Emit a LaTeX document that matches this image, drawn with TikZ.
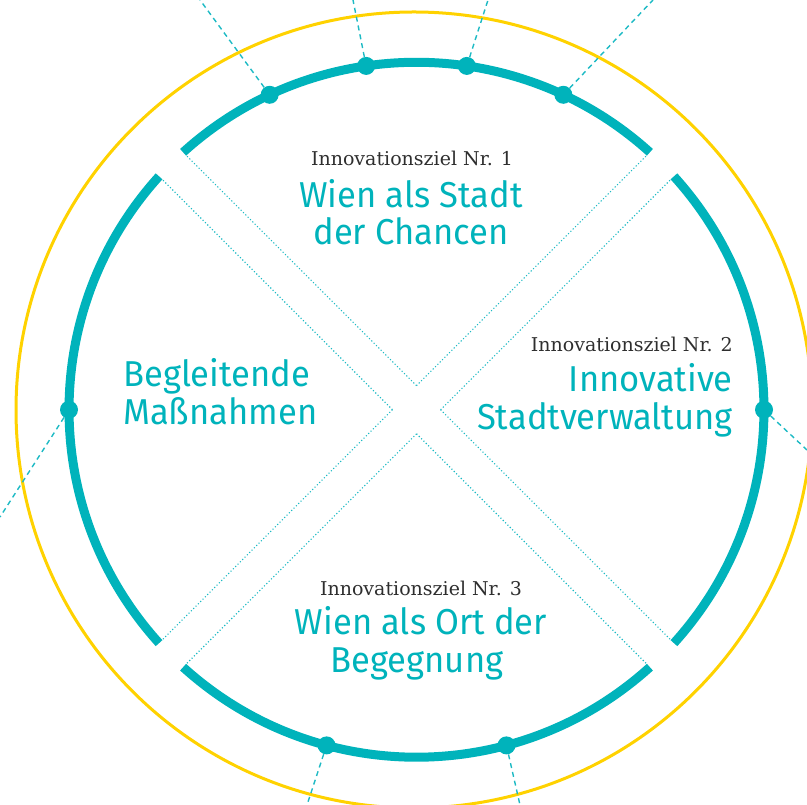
\documentclass[tikz,border=0pt]{standalone}
\usepackage{fontspec}
\newfontfamily\titlefont[FakeStretch=0.96]{Fira Sans}
\newfontfamily\kickerfont{DejaVu Serif}
\usetikzlibrary{calc}
\definecolor{teal1}{HTML}{00B3BB}
\definecolor{teal2}{HTML}{1DBAC4}
\definecolor{yell}{HTML}{FFD200}
\definecolor{graytxt}{HTML}{2E2E2E}
\begin{document}
\begin{tikzpicture}[x=1pt,y=1pt,
  ring/.style={line width=9pt, draw=teal1},
  band/.style={draw=teal2, line width=1.1pt, dash pattern=on 1.1pt off 2.2pt},
  ray/.style={draw=teal2, line width=1.4pt, dash pattern=on 5pt off 4pt},
  dotnode/.style={circle, fill=teal1, inner sep=0pt, minimum size=18pt},
  kicker/.style={font=\kickerfont\fontsize{19}{22}\selectfont, text=graytxt, inner sep=0pt},
  heading/.style={font=\titlefont\fontsize{36}{38}\selectfont, text=teal1, inner sep=0pt}]
\useasboundingbox (0,0) rectangle (807,805);
\coordinate (C) at (416.5,395.25);
\coordinate (Y) at (414,395);
% yellow outer circle
\draw[yell, line width=3pt] (Y) circle[radius=398];
% dotted bands
\pgfmathsetmacro{\dl}{asin(17/343)}
\pgfmathsetmacro{\da}{asin(17/347.5)}
\coordinate (T) at ($(C)+(90:24.04)$);
\coordinate (L) at ($(C)+(180:24.04)$);
\coordinate (B) at ($(C)+(270:24.04)$);
\coordinate (R) at ($(C)+(0:24.04)$);
\coordinate (nw1) at ($(C)+({135-\dl}:343)$);
\coordinate (nw2) at ($(C)+({135+\dl}:343)$);
\coordinate (sw1) at ($(C)+({225-\dl}:343)$);
\coordinate (sw2) at ($(C)+({225+\dl}:343)$);
\coordinate (se1) at ($(C)+({315-\dl}:343)$);
\coordinate (se2) at ($(C)+({315+\dl}:343)$);
\coordinate (ne1) at ($(C)+({45-\dl}:343)$);
\coordinate (ne2) at ($(C)+({45+\dl}:343)$);
\draw[band] (T) -- (nw1);
\draw[band] (L) -- (nw2);
\draw[band] (L) -- (sw1);
\draw[band] (B) -- (sw2);
\draw[band] (B) -- (se1);
\draw[band] (R) -- (se2);
\draw[band] (R) -- (ne1);
\draw[band] (T) -- (ne2);
% teal ring arcs
\foreach \s in {45,135,225,315}{
  \draw[ring] ($(C)+({\s+\da}:347.5)$) arc[start angle={\s+\da}, end angle={\s+90-\da}, radius=347.5];
}
% dots
\node[dotnode] (d1) at ($(C)+(115:347.5)$) {};
\node[dotnode] (d2) at ($(C)+(98.33:347.5)$) {};
\node[dotnode] (d3) at ($(C)+(81.67:347.5)$) {};
\node[dotnode] (d4) at ($(C)+(65:347.5)$) {};
\node[dotnode] (d5) at ($(C)+(0:347.5)$) {};
\node[dotnode] (d6) at ($(C)+(180:347.5)$) {};
\node[dotnode] (d7) at ($(C)+(255:347.5)$) {};
\node[dotnode] (d8) at ($(C)+(285:347.5)$) {};
% ray ends
\coordinate (e1) at (200,805);
\coordinate (e2) at (353,805);
\coordinate (e3) at (488,805);
\coordinate (e4) at (653,805);
\coordinate (e5) at (807,355);
\coordinate (e6) at (0,288);
\coordinate (e7) at (307,0);
\coordinate (e8) at (520,0);
\foreach \i in {1,...,8}{\draw[ray] (d\i) -- (e\i);}
% texts
\node[kicker, anchor=base] (k1) at (412,639) {Innovationsziel Nr. 1};
\node[heading, anchor=base] (h1a) at (411,597) {Wien als Stadt};
\node[heading, anchor=base] (h1b) at (411,560) {der Chancen};
\node[kicker, anchor=base east] (k2) at (733,453) {Innovationsziel Nr. 2};
\node[heading, anchor=base east] (h2a) at (733,413) {Innovative};
\node[heading, anchor=base east] (h2b) at (733,375) {Stadtverwaltung};
\node[heading, anchor=base west] (h4a) at (123,418) {Begleitende};
\node[heading, anchor=base west] (h4b) at (123,380) {Maßnahmen};
\node[kicker, anchor=base] (k3) at (421,209) {Innovationsziel Nr. 3};
\node[heading, anchor=base] (h3a) at (421,170) {Wien als Ort der};
\node[heading, anchor=base] (h3b) at (417,132) {Begegnung};
\end{tikzpicture}
\end{document}
